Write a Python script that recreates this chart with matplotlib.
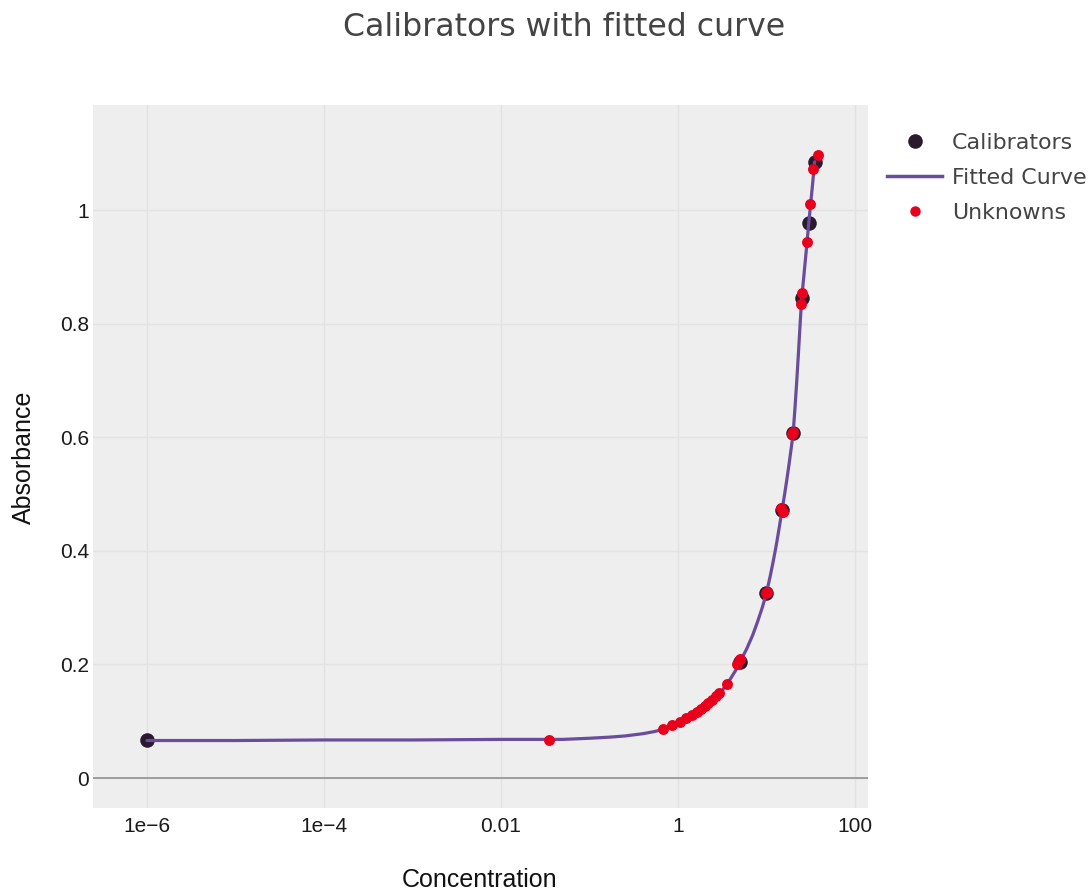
import matplotlib
matplotlib.use("Agg")
import matplotlib.pyplot as plt
from matplotlib.lines import Line2D

# ---- data ----
cal_conc = [1e-6, 5, 10, 15, 20, 25, 30, 35]
cal_abs = [0.067, 0.204, 0.326, 0.472, 0.607, 0.845, 0.977, 1.085]

curve_conc = [1e-6, 1e-5, 1e-4, 1e-3, 1e-2, 0.05, 0.1, 0.17, 0.25, 0.4, 0.55, 0.68, 0.8, 1.0,
              1.25, 1.5, 1.75, 2.0, 2.5, 3.0, 3.5, 4.0, 4.5, 5.0, 6, 7, 8, 9, 10, 11, 12, 13, 14, 15,
              16, 17, 18, 19, 20, 21, 22, 23, 24, 25, 26, 27, 28, 29, 30,
              31, 32, 33, 34, 35]
curve_abs = [0.066, 0.066, 0.067, 0.067, 0.068, 0.068, 0.070, 0.072, 0.074, 0.078, 0.082, 0.086, 0.089, 0.096,
             0.103, 0.110, 0.117, 0.124, 0.137, 0.150, 0.163, 0.177, 0.190, 0.204, 0.228, 0.252, 0.277, 0.301, 0.326,
             0.355, 0.384, 0.413, 0.443, 0.472, 0.499, 0.526, 0.553, 0.580, 0.607,
             0.652, 0.700, 0.750, 0.800, 0.845, 0.872, 0.899, 0.925, 0.951, 0.977,
             0.999, 1.021, 1.042, 1.064, 1.085]

unk_conc = [0.035, 0.678, 0.855, 1.05, 1.23, 1.44, 1.64, 1.82, 2.02, 2.18, 2.42, 2.69, 2.90, 3.58,
            4.64, 5.02, 9.8, 10.1, 14.5, 15.2, 19.5, 20.0, 24.6, 25.2, 28.7, 31.0, 33.5, 38.2]
unk_abs = [0.067, 0.086, 0.093, 0.099, 0.106, 0.111, 0.116, 0.121, 0.127, 0.132, 0.137, 0.144, 0.150, 0.165,
           0.201, 0.210, 0.325, 0.328, 0.476, 0.469, 0.605, 0.609, 0.835, 0.854, 0.944, 1.011, 1.072, 1.097]

x_ticks = [1e-6, 1e-4, 1e-2, 1, 100]
x_tick_labels = ["1e\u22126", "1e\u22124", "0.01", "1", "100"]
y_ticks = [0, 0.2, 0.4, 0.6, 0.8, 1.0]
y_tick_labels = ["0", "0.2", "0.4", "0.6", "0.8", "1"]

W, H = 1091, 890
fig = plt.figure(figsize=(W / 100, H / 100), dpi=100)
ax = fig.add_axes([93 / W, 1 - 808 / H, (868 - 93) / W, (808 - 105) / H])
ax.set_facecolor("#eeeeee")

cal_color = "#2b1a2e"
curve_color = "#6a4c9c"
unk_color = "#e8001c"

ax.scatter(cal_conc, cal_abs, s=110, color=cal_color, zorder=3, linewidths=0)
ax.plot(curve_conc, curve_abs, color=curve_color, lw=2.3, zorder=4,
        solid_capstyle="round", solid_joinstyle="round")
ax.scatter(unk_conc, unk_abs, s=62, color=unk_color, zorder=5, linewidths=0)

ax.set_xscale("log")
ax.set_xlim(10 ** -6.61, 10 ** 2.147)
ax.set_ylim(-0.0528, 1.185)
ax.set_xticks(x_ticks)
ax.set_xticklabels(x_tick_labels)
ax.set_yticks(y_ticks)
ax.set_yticklabels(y_tick_labels)
ax.minorticks_off()
ax.tick_params(axis="both", length=0, labelsize=15, labelcolor="#1a1a1a",
               labelfontfamily="Liberation Sans")
ax.tick_params(axis="x", pad=6.5)
ax.tick_params(axis="y", pad=3)
ax.grid(True, color="#e2e2e2", lw=1, zorder=0)
ax.set_axisbelow(True)
ax.axhline(0, color="#8a8a8a", lw=1.1, zorder=1)
for s in ax.spines.values():
    s.set_visible(False)

fig.text(480 / W, 1 - 880 / H, "Concentration", ha="center", va="center",
         fontsize=18, family="Liberation Sans", color="#111111")
fig.text(24 / W, 1 - 457 / H, "Absorbance", ha="center", va="center", rotation=90,
         fontsize=18, family="Liberation Sans", color="#111111")
fig.text(564 / W, 1 - 28 / H, "Calibrators with fitted curve", ha="center", va="center",
         fontsize=22.7, family="DejaVu Sans", color="#444444")

handles = [
    Line2D([], [], ls="none", marker="o", markersize=10.5, color=cal_color, markeredgewidth=0),
    Line2D([], [], color=curve_color, lw=2.5),
    Line2D([], [], ls="none", marker="o", markersize=7.5, color=unk_color, markeredgewidth=0),
]
leg = ax.legend(handles, ["Calibrators", "Fitted Curve", "Unknowns"],
                loc="upper left", bbox_to_anchor=(887 / W, 1 - 133 / H),
                bbox_transform=fig.transFigure, frameon=False,
                prop={"family": "DejaVu Sans", "size": 15.9}, handlelength=2.5,
                handletextpad=0.45, labelspacing=0.67, borderaxespad=0, borderpad=0)
for t in leg.get_texts():
    t.set_color("#444444")

fig.savefig("out.png", dpi=100)
